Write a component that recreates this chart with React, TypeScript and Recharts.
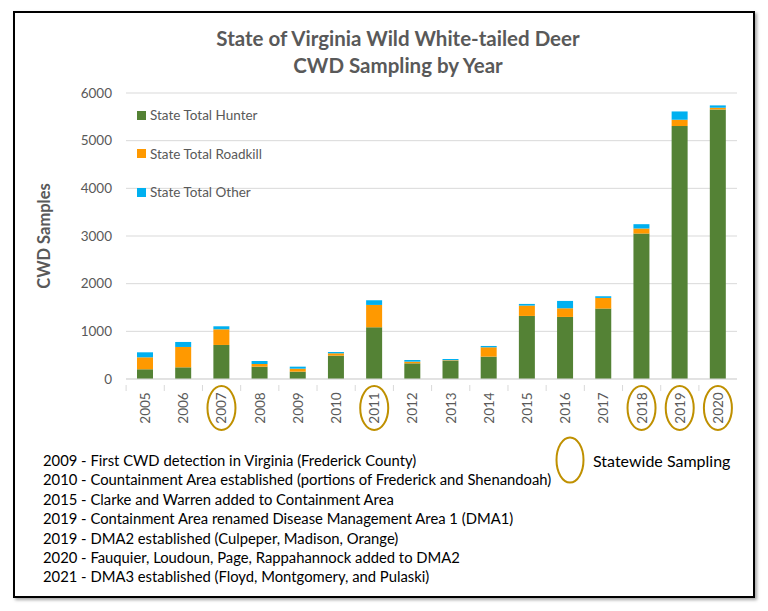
import React from "react";
import { Bar, BarChart, CartesianGrid, XAxis, YAxis } from "recharts";

const years = ["2005", "2006", "2007", "2008", "2009", "2010", "2011", "2012", "2013", "2014", "2015", "2016", "2017", "2018", "2019", "2020"];
const hunter = [204, 245, 714, 259, 154, 490, 1085, 329, 378, 469, 1323, 1302, 1477, 3051, 5307, 5655];
const roadkill = [251, 427, 329, 56, 63, 49, 469, 35, 15, 196, 217, 182, 224, 106, 132, 36];
const other = [105, 105, 63, 63, 42, 28, 98, 35, 27, 28, 35, 154, 35, 91, 174, 49];
const statewideYears = ["2007", "2011", "2018", "2019", "2020"];
const yTicks = [0, 1000, 2000, 3000, 4000, 5000, 6000];
const notes = [
  "2009 - First CWD detection in Virginia (Frederick County)",
  "2010 - Countainment Area established (portions of Frederick and Shenandoah)",
  "2015 - Clarke and Warren added to Containment Area",
  "2019 - Containment Area renamed Disease Management Area 1 (DMA1)",
  "2019 - DMA2 established (Culpeper, Madison, Orange)",
  "2020 - Fauquier, Loudoun, Page, Rappahannock added to DMA2",
  "2021 - DMA3 established (Floyd, Montgomery, and Pulaski)",
];

const data = years.map((year, i) => ({ year, hunter: hunter[i], roadkill: roadkill[i], other: other[i] }));

const FONT = "Lato, 'Open Sans', sans-serif";
const GREY = "#595959";
const GOLD = "#BF9000";

const series = [
  { key: "hunter", name: "State Total Hunter", color: "#548235" },
  { key: "roadkill", name: "State Total Roadkill", color: "#FF9900" },
  { key: "other", name: "State Total Other", color: "#00B0F0" },
];

function YearTick(props: any) {
  const { x, y, payload } = props;
  const cy = y + 21;
  const circled = statewideYears.includes(payload.value);
  return (
    <g>
      <line x1={x - 19} x2={x - 19} y1={y - 2} y2={y + 4} stroke="#D9D9D9" />
      <text
        x={x}
        y={cy}
        transform={`rotate(-90 ${x} ${cy})`}
        textAnchor="middle"
        dominantBaseline="central"
        fill={GREY}
        fontSize={13.5}
        fontFamily={FONT}
      >
        {payload.value}
      </text>
      {circled && <ellipse cx={x} cy={cy} rx={14} ry={22} fill="none" stroke={GOLD} strokeWidth={2} />}
    </g>
  );
}

export default function App() {
  return (
    <div style={{ position: "absolute", left: 0, top: 0, width: 768, height: 611, background: "#fff" }}>
      <div
        style={{
          position: "absolute",
          left: 13,
          top: 11,
          width: 738,
          height: 583,
          border: "2px solid #000",
          boxShadow: "2px 2px 3px rgba(0,0,0,0.35)",
        }}
      />
      <div
        style={{
          position: "absolute",
          left: 0,
          width: 796,
          top: 25,
          textAlign: "center",
          fontFamily: FONT,
          fontWeight: 700,
          fontSize: 20.5,
          lineHeight: "27px",
          color: GREY,
        }}
      >
        State of Virginia Wild White-tailed Deer
        <br />
        CWD Sampling by Year
      </div>
      <div
        style={{
          position: "absolute",
          left: 44,
          top: 236,
          transform: "translate(-50%, -50%) rotate(-90deg)",
          fontFamily: FONT,
          fontWeight: 700,
          fontSize: 16.5,
          color: GREY,
          whiteSpace: "nowrap",
        }}
      >
        CWD Samples
      </div>
      <div style={{ position: "absolute", left: 0, top: 0 }}>
        <BarChart width={768} height={611} data={data} margin={{ top: 93, right: 31, left: 86, bottom: 192 }} barSize={16}>
          <CartesianGrid vertical={false} stroke="#D9D9D9" />
          <XAxis dataKey="year" height={40} stroke="#D9D9D9" tickLine={false} tick={<YearTick />} interval={0} />
          <YAxis
            width={40}
            domain={[0, 6000]}
            ticks={yTicks}
            axisLine={false}
            tickLine={false}
            tick={{ fill: GREY, fontSize: 13.5, fontFamily: FONT, dx: -6 }}
          />
          {series.map((s) => (
            <Bar key={s.key} dataKey={s.key} name={s.name} stackId="a" fill={s.color} isAnimationActive={false} />
          ))}
        </BarChart>
      </div>
      <div style={{ position: "absolute", left: 137, top: 96, fontFamily: FONT, fontSize: 13.5, color: GREY }}>
        {series.map((s) => (
          <div key={s.key} style={{ display: "flex", alignItems: "center", height: 38.5 }}>
            <span style={{ width: 9, height: 9, background: s.color, display: "inline-block", marginRight: 4 }} />
            {s.name}
          </div>
        ))}
      </div>
      <div
        style={{
          position: "absolute",
          left: 43,
          top: 451,
          fontFamily: FONT,
          fontSize: 14.8,
          lineHeight: "19.4px",
          color: "#000",
          whiteSpace: "nowrap",
        }}
      >
        {notes.map((n, i) => (
          <div key={i}>{n}</div>
        ))}
      </div>
      <svg style={{ position: "absolute", left: 0, top: 0 }} width={768} height={611} pointerEvents="none">
        <ellipse cx={570} cy={460} rx={13.5} ry={22.5} fill="none" stroke={GOLD} strokeWidth={2} />
      </svg>
      <div
        style={{
          position: "absolute",
          left: 593,
          top: 451,
          fontFamily: FONT,
          fontSize: 16,
          color: "#000",
          whiteSpace: "nowrap",
        }}
      >
        Statewide Sampling
      </div>
    </div>
  );
}
